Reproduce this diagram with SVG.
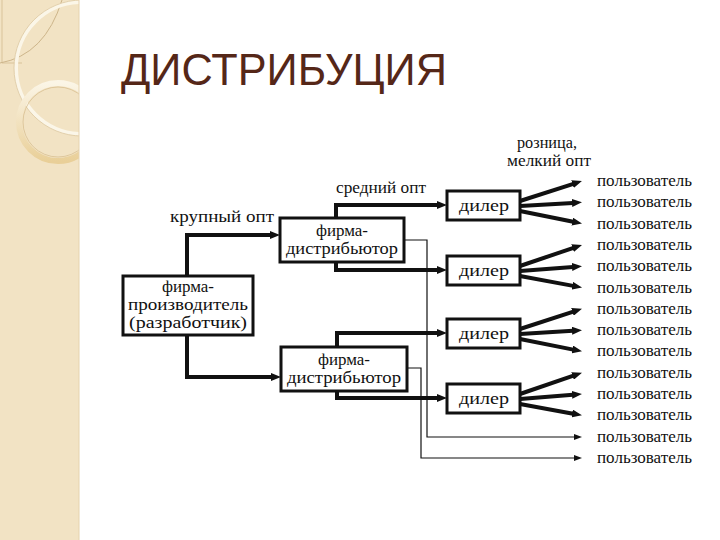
<svg xmlns="http://www.w3.org/2000/svg" width="720" height="540" viewBox="0 0 720 540">
<defs>
<marker id="ah" viewBox="0 0 10 8" markerWidth="10" markerHeight="8" refX="1" refY="4" orient="auto" markerUnits="userSpaceOnUse"><path d="M0,0 L10,4 L0,8 z" fill="#111"/></marker>
<marker id="ahs" viewBox="0 0 8 6" markerWidth="8" markerHeight="6" refX="1" refY="3" orient="auto" markerUnits="userSpaceOnUse"><path d="M0,0 L8,3 L0,6 z" fill="#111"/></marker>
<linearGradient id="ring" x1="0" y1="0" x2="0" y2="1"><stop offset="0" stop-color="#FBF5E6"/><stop offset="1" stop-color="#E9CF98"/></linearGradient>
<clipPath id="sb"><rect x="0" y="0" width="79" height="540"/></clipPath>
<style>
.box{fill:#fff;stroke:#111;stroke-width:3}
.t{font-family:"Liberation Serif","DejaVu Serif",serif;fill:#111;text-anchor:middle}
.bx{font-size:17px}
.lb{font-size:16px}
.u{font-family:"Liberation Serif","DejaVu Serif",serif;fill:#111;font-size:16px}
.thick{fill:none;stroke:#111;stroke-width:4;marker-end:url(#ah)}
.thin{fill:none;stroke:#111;stroke-width:1.2;marker-end:url(#ahs)}
</style>
</defs>
<rect width="720" height="540" fill="#fff"/>
<g id="sidebar">
<rect x="0" y="0" width="79" height="540" fill="#F2E3C4"/>
<g clip-path="url(#sb)">
<path d="M2,0 V63 H22" fill="none" stroke="#D9C39A" stroke-width="1"/>
<path d="M0,63 Q45,55 62,0" fill="none" stroke="#CDB58A" stroke-width="1"/>
<circle cx="82" cy="68" r="66" fill="none" stroke="#FBF6E8" stroke-width="4"/>
<circle cx="82" cy="68" r="68" fill="none" stroke="#DCC69E" stroke-width="0.8"/>
<circle cx="58" cy="122" r="39" fill="none" stroke="url(#ring)" stroke-width="6"/>
<circle cx="58" cy="122" r="35" fill="none" stroke="#D8BF90" stroke-width="0.8"/>
</g>
<line x1="79" y1="0" x2="79" y2="540" stroke="#E6D3AE" stroke-width="1"/>
</g>
<text x="121" y="85" font-family="'Liberation Sans','DejaVu Sans',sans-serif" font-size="45" fill="#552718" textLength="326" lengthAdjust="spacingAndGlyphs">ДИСТРИБУЦИЯ</text>
<g id="connectors">
<path class="thick" d="M187,276 V235 H271"/>
<path class="thick" d="M187,335 V377 H272"/>
<path class="thick" d="M336,218 V205 H438"/>
<path class="thick" d="M336,262 V270 H438"/>
<path class="thick" d="M337,347 V333 H438"/>
<path class="thick" d="M337,391 V398 H438"/>
<path class="thin" d="M404,240 H427 V437 H575"/>
<path class="thin" d="M407,368 H421 V458 H575"/>
<path class="thick" d="M520,201 L573.4,183.8"/>
<path class="thick" d="M520,206 L573,202.9"/>
<path class="thick" d="M520,211 L573.2,221.8"/>
<path class="thick" d="M520,266 L573.5,247.8"/>
<path class="thick" d="M520,271 L573,266.9"/>
<path class="thick" d="M520,276 L573.2,285.9"/>
<path class="thick" d="M520,329 L573.4,311.6"/>
<path class="thick" d="M520,334 L573,330.7"/>
<path class="thick" d="M520,339 L573.2,349.6"/>
<path class="thick" d="M520,394 L573.5,375.6"/>
<path class="thick" d="M520,399 L573,394.7"/>
<path class="thick" d="M520,404 L573.1,413.7"/>
</g>
<g id="labels">
<text class="t lb" x="222" y="222" textLength="104" lengthAdjust="spacingAndGlyphs">крупный опт</text>
<text class="t lb" x="381" y="193" textLength="90" lengthAdjust="spacingAndGlyphs">средний опт</text>
<text class="t lb" x="547" y="148" textLength="60" lengthAdjust="spacingAndGlyphs">розница,</text>
<text class="t lb" x="549" y="166" textLength="84" lengthAdjust="spacingAndGlyphs">мелкий опт</text>
</g>
<g id="producer">
<rect class="box" x="123" y="276" width="130" height="59"/>
<text class="t bx" x="188" y="292" textLength="52" lengthAdjust="spacingAndGlyphs">фирма-</text>
<text class="t bx" x="188" y="310" textLength="120" lengthAdjust="spacingAndGlyphs">производитель</text>
<text class="t bx" x="188" y="328" textLength="118" lengthAdjust="spacingAndGlyphs">(разработчик)</text>
</g>
<g id="distributor1">
<rect class="box" x="280" y="218" width="124" height="44"/>
<text class="t bx" x="342" y="236" textLength="52" lengthAdjust="spacingAndGlyphs">фирма-</text>
<text class="t bx" x="342" y="254" textLength="112" lengthAdjust="spacingAndGlyphs">дистрибьютор</text>
</g>
<g id="distributor2">
<rect class="box" x="281" y="347" width="126" height="44"/>
<text class="t bx" x="344" y="365" textLength="52" lengthAdjust="spacingAndGlyphs">фирма-</text>
<text class="t bx" x="344" y="383" textLength="114" lengthAdjust="spacingAndGlyphs">дистрибьютор</text>
</g>
<g id="dealer1"><rect class="box" x="447" y="191" width="73" height="29"/><text class="t bx" x="484" y="211" textLength="50" lengthAdjust="spacingAndGlyphs">дилер</text></g>
<g id="dealer2"><rect class="box" x="447" y="256" width="73" height="29"/><text class="t bx" x="484" y="276" textLength="50" lengthAdjust="spacingAndGlyphs">дилер</text></g>
<g id="dealer3"><rect class="box" x="447" y="319" width="73" height="29"/><text class="t bx" x="484" y="339" textLength="50" lengthAdjust="spacingAndGlyphs">дилер</text></g>
<g id="dealer4"><rect class="box" x="447" y="384" width="73" height="29"/><text class="t bx" x="484" y="404" textLength="50" lengthAdjust="spacingAndGlyphs">дилер</text></g>
<g id="users">
<text class="u" x="597" y="186" textLength="95" lengthAdjust="spacingAndGlyphs">пользователь</text>
<text class="u" x="597" y="207.3" textLength="95" lengthAdjust="spacingAndGlyphs">пользователь</text>
<text class="u" x="597" y="228.6" textLength="95" lengthAdjust="spacingAndGlyphs">пользователь</text>
<text class="u" x="597" y="249.9" textLength="95" lengthAdjust="spacingAndGlyphs">пользователь</text>
<text class="u" x="597" y="271.2" textLength="95" lengthAdjust="spacingAndGlyphs">пользователь</text>
<text class="u" x="597" y="292.5" textLength="95" lengthAdjust="spacingAndGlyphs">пользователь</text>
<text class="u" x="597" y="313.8" textLength="95" lengthAdjust="spacingAndGlyphs">пользователь</text>
<text class="u" x="597" y="335.1" textLength="95" lengthAdjust="spacingAndGlyphs">пользователь</text>
<text class="u" x="597" y="356.4" textLength="95" lengthAdjust="spacingAndGlyphs">пользователь</text>
<text class="u" x="597" y="377.7" textLength="95" lengthAdjust="spacingAndGlyphs">пользователь</text>
<text class="u" x="597" y="399" textLength="95" lengthAdjust="spacingAndGlyphs">пользователь</text>
<text class="u" x="597" y="420.3" textLength="95" lengthAdjust="spacingAndGlyphs">пользователь</text>
<text class="u" x="597" y="441.6" textLength="95" lengthAdjust="spacingAndGlyphs">пользователь</text>
<text class="u" x="597" y="462.9" textLength="95" lengthAdjust="spacingAndGlyphs">пользователь</text>
</g>
</svg>
